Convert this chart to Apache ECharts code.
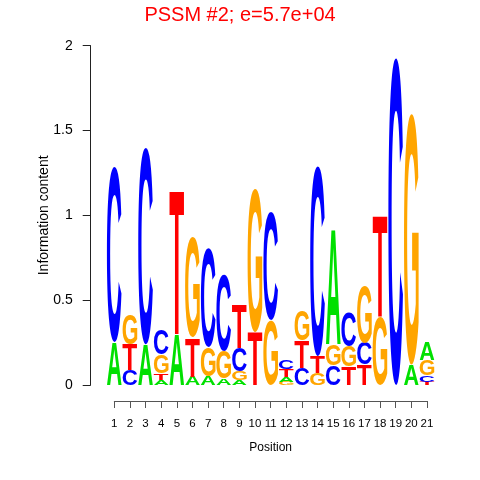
<!DOCTYPE html>
<html>
<head>
<meta charset="utf-8">
<script src="https://cdn.jsdelivr.net/npm/echarts@6/dist/echarts.min.js"></script>
<style>
  html, body { margin: 0; padding: 0; background: #fff; }
  #logo { width: 480px; height: 480px; }
</style>
</head>
<body>
<div id="logo"></div>
<script>
// positions of the motif
const positions = [1,2,3,4,5,6,7,8,9,10,11,12,13,14,15,16,17,18,19,20,21];
// letter heights (bits) per position
const letterA = [0.25,0,0.24,0.03,0.30,0.05,0.05,0.04,0.03,0,0,0.03,0,0,0.68,0,0,0,0,0.12,0.11];
const letterC = [1.03,0.09,1.16,0.15,0,0,0.58,0.45,0.14,0,0.64,0.05,0.10,1.12,0.115,0.20,0.13,0,1.93,0,0.04];
const letterG = [0,0.18,0,0.11,0,0.59,0.17,0.16,0.05,0.85,0.38,0.02,0.18,0.07,0.125,0.12,0.33,0.40,0,1.48,0.09];
const letterT = [0,0.15,0,0.04,0.85,0.23,0,0,0.26,0.31,0,0.045,0.16,0.10,0,0.11,0.12,0.60,0,0,0.02];
const yTicks = [0, 0.5, 1, 1.5, 2];

const letterColor = { A: '#00E000', C: '#0000FF', G: '#FFA500', T: '#FF0000' };
const FONT = 'bold 100px "Liberation Sans", Arial, sans-serif';

// measure the ink box of each glyph (zrender draws plain text with baseline 'middle')
const metrics = {};
(function(){
    const ctx = document.createElement('canvas').getContext('2d');
    ctx.font = FONT;
    ctx.textBaseline = 'middle';
    ctx.textAlign = 'left';
    ['A','C','G','T'].forEach(l => {
        const m = ctx.measureText(l);
        metrics[l] = {
            left: m.actualBoundingBoxLeft,
            right: m.actualBoundingBoxRight,
            asc: m.actualBoundingBoxAscent,
            desc: m.actualBoundingBoxDescent
        };
    });
})();

function renderItem(params, api){
    const i = params.dataIndex;
    const x = api.value(0);
    const pL = api.coord([x - 0.5, 0]);
    const pR = api.coord([x + 0.5, 0]);
    const w = (pR[0] - pL[0]) * 0.94;
    const x0 = (pL[0] + pR[0]) / 2 - w / 2;
    let stack = [
        ['A', letterA[i]], ['C', letterC[i]], ['G', letterG[i]], ['T', letterT[i]]
    ].filter(d => d[1] > 0).sort((a, b) => a[1] - b[1]);
    let acc = 0;
    const children = [];
    stack.forEach(d => {
        const yb = api.coord([x, acc])[1];
        const yt = api.coord([x, acc + d[1]])[1];
        acc += d[1];
        const h = yb - yt;
        const m = metrics[d[0]];
        const sx = w / (m.left + m.right);
        const sy = h / (m.asc + m.desc);
        children.push({
            type: 'text',
            x: x0 + m.left * sx,
            y: yt + m.asc * sy,
            scaleX: sx,
            scaleY: sy,
            silent: true,
            style: {
                text: d[0],
                x: 0,
                y: 0,
                font: FONT,
                align: 'left',
                verticalAlign: 'middle',
                fill: letterColor[d[0]]
            }
        });
    });
    return { type: 'group', children: children };
}

const chart = echarts.init(document.getElementById('logo'), null, { renderer: 'canvas' });
const fam = '"Liberation Sans", Arial, sans-serif';
chart.setOption({
    animation: false,
    backgroundColor: '#fff',
    title: {
        text: 'PSSM #2; e=5.7e+04',
        left: 'center',
        top: 0,
        textStyle: { color: '#FF0000', fontSize: 20, fontWeight: 'normal', fontFamily: fam }
    },
    grid: [
        { left: 106.5, right: 45.2, top: 45.7, bottom: 95 },
        { left: 114.3, right: 53, top: 45.7, bottom: 95 }
    ],
    xAxis: [
        { type: 'value', gridIndex: 0, min: 0.5, max: 21.5, show: false },
        {
            type: 'value', gridIndex: 1, min: 1, max: 21, interval: 1, offset: 16,
            name: 'Position', nameLocation: 'middle', nameGap: 41, nameMoveOverlap: false,
            nameTextStyle: { fontSize: 12, color: '#000', fontFamily: fam },
            axisLine: { show: true, onZero: false, lineStyle: { color: '#555', width: 1 } },
            axisTick: { show: true, length: 7, lineStyle: { color: '#555' } },
            axisLabel: {
                fontSize: 11.5, color: '#000', fontFamily: fam, margin: 17,
                formatter: v => positions.indexOf(v) >= 0 ? String(v) : ''
            },
            splitLine: { show: false }
        }
    ],
    yAxis: [
        {
            type: 'value', gridIndex: 0, min: yTicks[0], max: yTicks[yTicks.length - 1], interval: 0.5, offset: 15.8,
            name: 'Information content', nameLocation: 'middle', nameGap: 40, nameMoveOverlap: false,
            nameTextStyle: { fontSize: 14, color: '#000', fontFamily: fam },
            axisLine: { show: true, onZero: false, lineStyle: { color: '#222', width: 1 } },
            axisTick: { show: true, length: 8, lineStyle: { color: '#222' } },
            axisLabel: { fontSize: 14, color: '#000', fontFamily: fam, margin: 18 },
            splitLine: { show: false }
        },
        { type: 'value', gridIndex: 1, min: 0, max: 2, show: false }
    ],
    series: [{
        type: 'custom',
        xAxisIndex: 0,
        yAxisIndex: 0,
        renderItem: renderItem,
        data: positions.map(p => [p]),
        clip: false
    }]
});
</script>
</body>
</html>
